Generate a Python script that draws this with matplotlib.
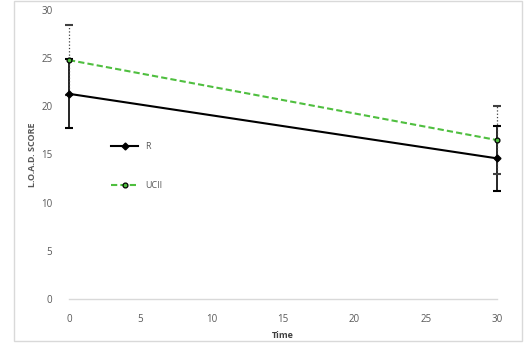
import matplotlib
matplotlib.use("Agg")
import matplotlib.pyplot as plt
from matplotlib.patches import Rectangle

# data
time = [0, 30]
r_score = [21.3, 14.6]
r_err = [3.6, 3.4]
ucii_score = [24.8, 16.5]
ucii_err = [3.6, 3.5]
xticks = [0, 5, 10, 15, 20, 25, 30]
yticks = [0, 5, 10, 15, 20, 25, 30]

plt.rcParams['font.family'] = ['Open Sans', 'DejaVu Sans']
grey = '#595959'

fig = plt.figure(figsize=(5.28, 3.44), dpi=100)
fig.patches.append(Rectangle((14/528, 3/344), 508/528, 340/344, transform=fig.transFigure,
                             fill=False, edgecolor='#d9d9d9', lw=1))
ax = fig.add_axes([69/528, 1-299/344, 428/528, 289/344])

# error bars first so the lines sit on top
eb1 = ax.errorbar(time, r_score, yerr=r_err, fmt='none', ecolor='black', elinewidth=1.2,
                  capsize=3, capthick=1.5, clip_on=False, zorder=2)
eb2 = ax.errorbar(time, ucii_score, yerr=ucii_err, fmt='none', ecolor='#404040', elinewidth=0.9,
                  capsize=3, capthick=1.5, clip_on=False, zorder=2)
eb2[2][0].set_linestyle(':')

ax.plot(time, r_score, color='black', lw=1.5, marker='D', ms=3.5, mfc='black', mec='black',
        label='R', clip_on=False, zorder=3)
ax.plot(time, ucii_score, color='#4fbf3f', lw=1.5, ls=(0, (3, 1.5)), marker='o', ms=3.5,
        mfc='#4fbf3f', mec='black', mew=0.9, label='UCII', clip_on=False, zorder=3)

ax.set_xlim(0, 30)
ax.set_ylim(0, 30)
ax.set_xticks(xticks)
ax.set_yticks(yticks)
ax.tick_params(length=0, labelsize=7, labelcolor=grey)
ax.tick_params(axis='y', pad=12)
ax.tick_params(axis='x', pad=11)
for s in ['top', 'right', 'left']:
    ax.spines[s].set_visible(False)
ax.spines['bottom'].set_color('#d9d9d9')
ax.spines['bottom'].set_linewidth(1)

ax.set_xlabel('Time', fontsize=6.5, color='#404040', fontweight='bold', labelpad=4)
ax.set_ylabel('L.O.A.D. SCORE', fontsize=6.5, color=grey, fontweight='bold', labelpad=3)

ax.legend(loc='upper left', bbox_to_anchor=(0.08, 0.57), frameon=False, fontsize=6.5,
          labelcolor=grey, handlelength=3.0, labelspacing=3.3, handletextpad=0.7)

fig.savefig('out.png', dpi=100)
